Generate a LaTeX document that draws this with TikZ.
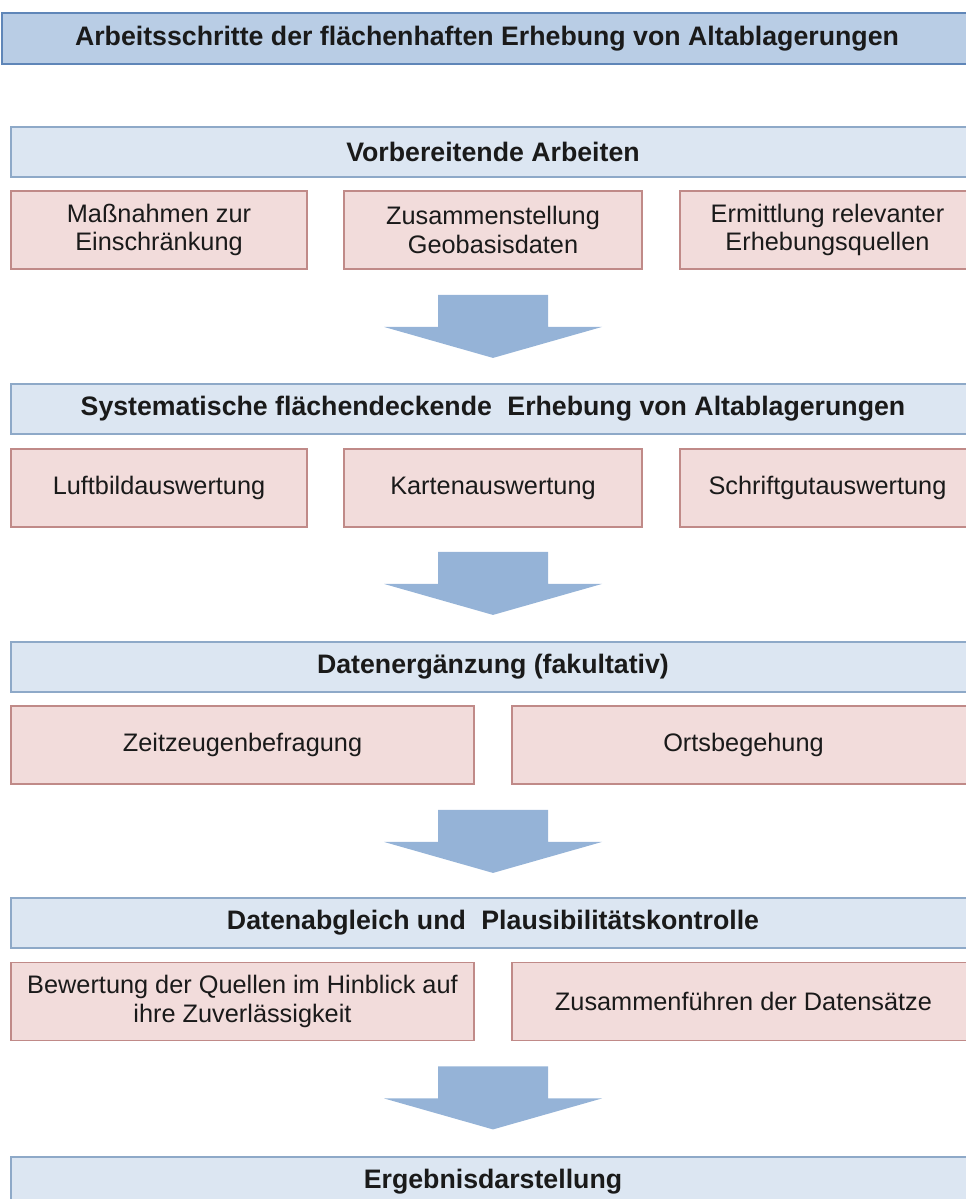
\documentclass[tikz,border=0pt]{standalone}
\usepackage{fontspec}
\setmainfont{Liberation Sans}
\usetikzlibrary{calc}
\definecolor{titlefill}{HTML}{B9CDE5}
\definecolor{titleline}{HTML}{5F86B8}
\definecolor{headfill}{HTML}{DCE6F2}
\definecolor{headline}{HTML}{8EA9C8}
\definecolor{stepfill}{HTML}{F2DCDB}
\definecolor{stepline}{HTML}{C08A88}
\definecolor{arrowfill}{HTML}{95B3D7}
\definecolor{ink}{HTML}{1A1A1A}
\newcommand{\px}{0.025cm}
\newcommand{\flowarrow}[1]{%
  \fill[arrowfill, shift={(#1)}]
    (-55,0) -- (55,0) -- (55,32) -- (109,32) -- (0,63) -- (-109,32) -- (-55,32) -- cycle;}

\begin{document}
\begin{tikzpicture}[
    x=\px, y=-\px,
    titlebox/.style={draw=titleline, fill=titlefill, line width=1.3pt,
        minimum width=970*\px, minimum height=51*\px, inner sep=0pt,
        text=ink, font=\fontsize{19}{21}\selectfont\bfseries},
    headbox/.style={draw=headline, fill=headfill, line width=1.3pt,
        minimum width=964*\px, minimum height=50*\px, inner sep=0pt,
        text=ink, font=\fontsize{19}{21}\selectfont\bfseries},
    stepbox/.style={draw=stepline, fill=stepfill, line width=1.3pt,
        minimum height=78*\px, inner sep=0pt, align=center,
        text=ink, font=\fontsize{18}{20.5}\selectfont},
]
\clip (0,0) rectangle (966,1199);

% Title
\node[titlebox] (title) at (487,38.5) {Arbeitsschritte der flächenhaften Erhebung von Altablagerungen};

% Step 1
\node[headbox] (h1) at (493,152) {Vorbereitende Arbeiten};
\node[stepbox, minimum width=296*\px] (s11) at (159,230) {Maßnahmen zur\\Einschränkung};
\node[stepbox, minimum width=298*\px] (s12) at (493,230) {Zusammenstellung\\Geobasisdaten};
\node[stepbox, minimum width=295*\px] (s13) at (827.5,230) {Ermittlung relevanter\\Erhebungsquellen};
\coordinate (a1) at ($(h1.center |- s12.south)+(0,25)$);
\flowarrow{a1}

% Step 2
\node[headbox] (h2) at (493,409) {Systematische flächendeckende\hspace{0.3em} Erhebung von Altablagerungen};
\node[stepbox, minimum width=296*\px] (s21) at (159,488) {Luftbildauswertung};
\node[stepbox, minimum width=298*\px] (s22) at (493,488) {Kartenauswertung};
\node[stepbox, minimum width=295*\px] (s23) at (827.5,488) {Schriftgutauswertung};
\coordinate (a2) at ($(h2.center |- s22.south)+(0,24)$);
\flowarrow{a2}

% Step 3
\node[headbox] (h3) at (493,667) {Datenergänzung (fakultativ)};
\node[stepbox, minimum width=463*\px] (s31) at (242.5,745) {Zeitzeugenbefragung};
\node[stepbox, minimum width=463*\px] (s32) at (743.5,745) {Ortsbegehung};
\coordinate (a3) at ($(h3.center |- s31.south)+(0,25)$);
\flowarrow{a3}

% Step 4
\node[headbox] (h4) at (493,923) {Datenabgleich und\hspace{0.3em} Plausibilitätskontrolle};
\node[stepbox, minimum width=463*\px] (s41) at (242.5,1001.5) {Bewertung der Quellen im Hinblick auf\\ihre Zuverlässigkeit};
\node[stepbox, minimum width=463*\px] (s42) at (743.5,1001.5) {Zusammenführen der Datensätze};
\coordinate (a4) at ($(h4.center |- s41.south)+(0,25)$);
\flowarrow{a4}

% Result
\node[headbox] (h5) at (493,1182) {Ergebnisdarstellung};

\end{tikzpicture}
\end{document}
